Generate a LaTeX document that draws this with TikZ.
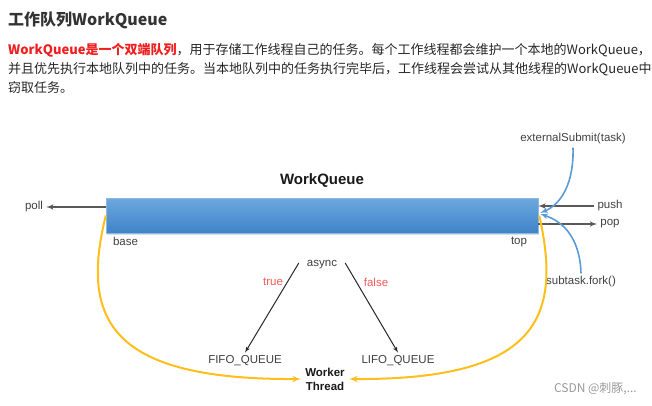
\documentclass[tikz,border=0pt]{standalone}
\usepackage{fontspec}
\setmainfont{Liberation Sans}
\newfontfamily\cjkfont{Noto Sans CJK SC}
\usetikzlibrary{arrows, positioning, shadows}

\definecolor{textgray}{HTML}{404040}
\definecolor{headgray}{HTML}{333333}
\definecolor{qlight}{HTML}{6DA8DE}
\definecolor{qdark}{HTML}{3F84C8}
\definecolor{curveblue}{HTML}{5B9BD5}
\definecolor{curveyellow}{HTML}{FFBE1A}
\definecolor{hotred}{HTML}{F01E1E}
\definecolor{softred}{HTML}{F25A5A}

\begin{document}
\begin{tikzpicture}[x=1pt, y=-1pt,
lbl/.style={font=\fontsize{11.5}{13}\selectfont, text=textgray, inner sep=3pt},
cond/.style={lbl, text=softred},
para/.style={anchor=base west, inner sep=0pt, text=black!85,
font=\cjkfont\fontsize{13}{15}\selectfont},
queue/.style={rectangle, draw=qlight!80, top color=qlight, bottom color=qdark,
minimum width=432pt, minimum height=35pt,
drop shadow={shadow xshift=1pt, shadow yshift=-1.5pt, opacity=0.25}},
garrow/.style={draw=black!65, line width=1.5pt, -latex'},
karrow/.style={draw=black!85, line width=1pt, -latex'},
bcurve/.style={draw=curveblue, line width=1.6pt, -latex'},
ycurve/.style={draw=curveyellow, line width=2pt, -latex'}
]
\useasboundingbox (0,0) rectangle (652,406);

% heading and text above the diagram
\node [anchor=west, inner sep=0pt, text=headgray,
font=\cjkfont\bfseries\fontsize{16}{18}\selectfont] (heading) at (8,20) {工作队列WorkQueue};
\node [para] (para-1) at (8,55) {{\color{hotred}\bfseries WorkQueue是一个双端队列}，用于存储工作线程自己的任务。每个工作线程都会维护一个本地的WorkQueue，};
\node [para] (para-2) at (8,74) {并且优先执行本地队列中的任务。当本地队列中的任务执行完毕后，工作线程会尝试从其他线程的WorkQueue中};
\node [para] (para-3) at (8,93) {窃取任务。};

% the queue
\node [queue] (wq) at (322,215.5) {};
\node [font=\bfseries\fontsize{15}{17}\selectfont, text=black!90] (wq-title) at (322,181) {WorkQueue};
\node [lbl, below right=1pt and 4pt of wq.south west] (base) {base};
\node [lbl, below left=1pt and 8pt of wq.south east] (top) {top};

\node [lbl] (poll) at (34,207) {poll};
\node [lbl] (push) at (610,206) {push};
\node [lbl] (pop) at (610,224) {pop};
\node [lbl] (ext) at (573,139) {externalSubmit(task)};
\node [lbl] (fork) at (581,282) {subtask.fork()};

\coordinate (wq-in) at ([yshift=2.5]wq.east);

\path [garrow] ([yshift=8.5]wq.west) -- (poll.east);
\path [garrow] (push.west) -- (push -| wq.east);
\path [garrow] (pop -| wq.east) -- (pop.west);
\path [bcurve] (ext.south) .. controls (574,182) and (562,204) .. ([xshift=2]wq-in);
\path [bcurve] (fork.north) .. controls (580,240) and (565,222) .. ([xshift=2,yshift=-1]wq-in);

% async choice
\node [lbl, inner sep=8pt] (async) at (322,265) {async};
\node [lbl] (fifo) at (245,361) {FIFO\_QUEUE};
\node [lbl] (lifo) at (398,361) {LIFO\_QUEUE};
\node [cond] (true) at (273,282) {true};
\node [cond] (false) at (376,282) {false};
\node [font=\bfseries\fontsize{11.5}{14}\selectfont, align=center, text=black!90,
inner sep=4pt] (worker) at (325,379) {Worker\\Thread};

\path [karrow] ([yshift=2]async.west) -- (fifo.north);
\path [karrow] ([yshift=2]async.east) -- (lifo.north);

\path [ycurve] (wq.west) .. controls (80,320) and (110,380) .. (worker.west);
\path [ycurve] ([xshift=1]wq.east) .. controls (563,320) and (535,380) .. (worker.east);

\node [anchor=base east, inner sep=0pt, text=black!40,
font=\cjkfont\fontsize{12}{14}\selectfont] (mark) at (637,392) {CSDN @刺豚,...};

\end{tikzpicture}
\end{document}
